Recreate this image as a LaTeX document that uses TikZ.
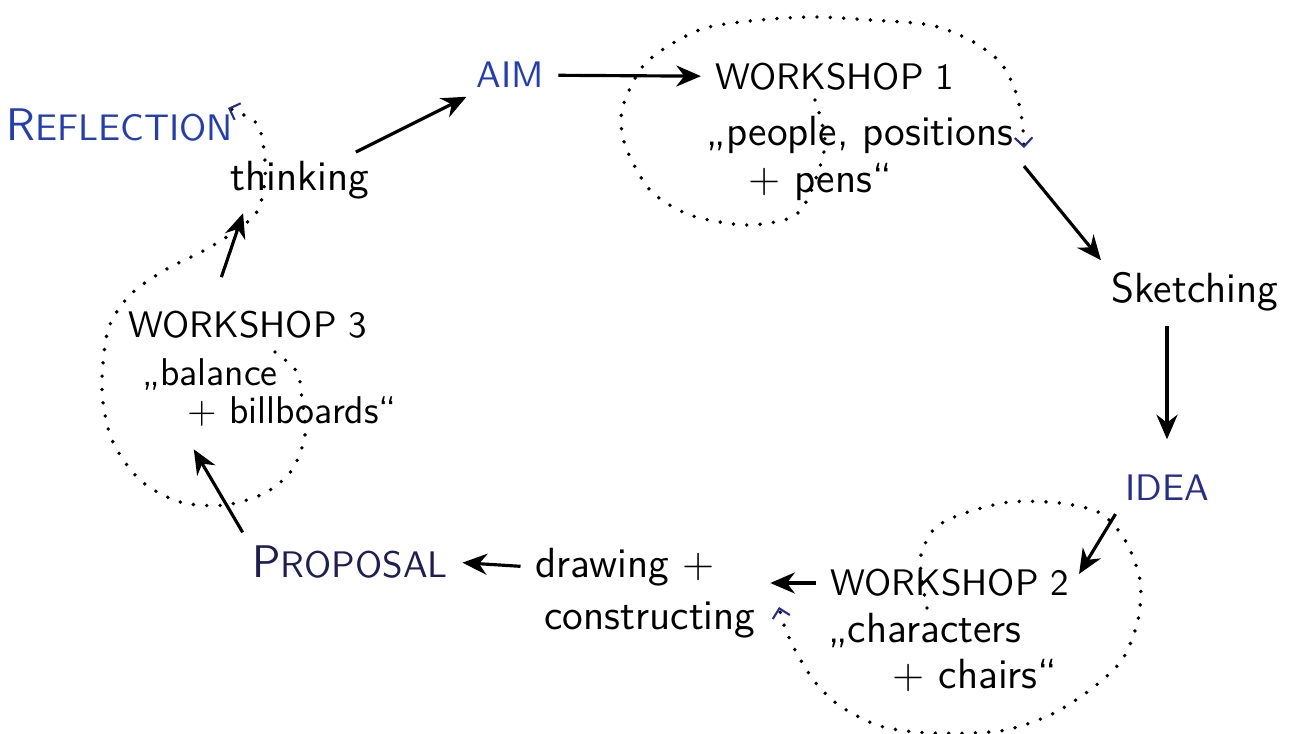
\documentclass[tikz,border=0pt]{standalone}
\usepackage{fontspec}
\usetikzlibrary{arrows.meta,calc}
\definecolor{inkblue}{RGB}{35,62,180}
\definecolor{inknavy}{RGB}{38,45,140}
\definecolor{inkdark}{RGB}{30,30,85}

\begin{document}
\begin{tikzpicture}[x=0.01cm, y=-0.01cm,
    hand/.style={font=\sffamily\fontsize{12}{14}\selectfont, inner sep=1pt},
    caps/.style={font=\sffamily\fontsize{10.5}{12}\selectfont, inner sep=1pt},
    flow/.style={-{Stealth[length=7pt,width=6pt]}, line width=0.9pt, shorten <=3pt, shorten >=3pt},
    loop/.style={line width=1.1pt, line cap=round, dash pattern=on 0pt off 3.8pt,
      -{Straight Barb[length=2.5pt,width=5pt,line width=0.6pt,color=inknavy]}}]
  \useasboundingbox (0,0) rectangle (1306,734);

  % the three steps of the loop
  \node[caps, text=inkblue] (refl) at (120,125) {{\fontsize{13}{12}\selectfont R}EFLECTION};
  \node[hand] (think) at (300,180) {thinking};
  \node[caps, text=inkblue] (aim) at (510,75) {AIM};
  \node[caps] (ws1) at (835,77) {WORKSHOP 1};
  \node[hand] (ws1a) at (860,135) {„people, positions};
  \node[hand] (ws1b) at (820,182) {+ pens“};
  \node[hand] (sketch) at (1195,292) {Sketching};
  \node[caps, text=inknavy] (idea) at (1167,488) {IDEA};
  \node[caps] (ws2) at (950,583) {WORKSHOP 2};
  \node[hand] (ws2a) at (925,630) {„characters};
  \node[hand] (ws2b) at (975,675) {+ chairs“};
  \node[hand] (draw1) at (625,567) {drawing +};
  \node[hand] (draw2) at (650,620) {constructing};
  \node[caps, text=inkdark] (prop) at (350,562) {{\fontsize{13}{12}\selectfont P}ROPOSAL};
  \node[caps] (ws3) at (248,325) {WORKSHOP 3};
  \node[hand, font=\sffamily\fontsize{11}{13}\selectfont] (ws3a) at (210,374) {„balance};
  \node[hand, font=\sffamily\fontsize{11}{13}\selectfont] (ws3b) at (292,412) {+ billboards“};

  % solid arrows
  \draw[flow] (think) -- (aim);
  \draw[flow] (aim) -- (ws1);
  \draw[flow] (ws1a.south east) -- (sketch.north west);
  \draw[flow, shorten >=9pt] (sketch.south -| idea.north) -- (idea.north);
  \draw[flow] (idea.south west) -- (ws2.east);
  \draw[flow] (ws2.west) -- (ws2.west -| draw2.east);
  \draw[flow] (draw1.west) -- (prop.east);
  \draw[flow, shorten >=6pt] (prop.north west) -- (ws3b.south west);
  \draw[flow] ($(ws3.north)+(-30,-20)$) -- ($(think.south west)+(20,0)$);

  % dotted loops round the workshops
  \draw[loop] plot[smooth] coordinates {(815,100) (825,145) (808,198) (790,218)
    (745,225) (690,215) (650,190) (625,145) (622,110) (640,70) (665,48) (705,28)
    (760,20) (815,17) (870,20) (930,25) (970,40) (1000,62) (1015,90) (1022,120)
    (1024,148)};
  \draw[loop] plot[smooth] coordinates {(927,608) (922,580) (921,555) (935,528)
    (965,513) (1010,502) (1060,503) (1100,513) (1125,540) (1140,580) (1138,620)
    (1122,660) (1090,690) (1050,715) (1000,731) (930,733) (880,726) (840,706)
    (815,682) (795,650) (784,625) (779,607)};
  \draw[loop] plot[smooth] coordinates {(275,352) (297,372) (302,400) (305,435)
    (292,470) (265,493) (225,505) (180,502) (140,480) (112,440) (102,390)
    (108,330) (130,295) (165,270) (205,250) (240,228) (258,210) (265,180)
    (264,150) (258,125) (242,114) (228,108)};
\end{tikzpicture}
\end{document}
